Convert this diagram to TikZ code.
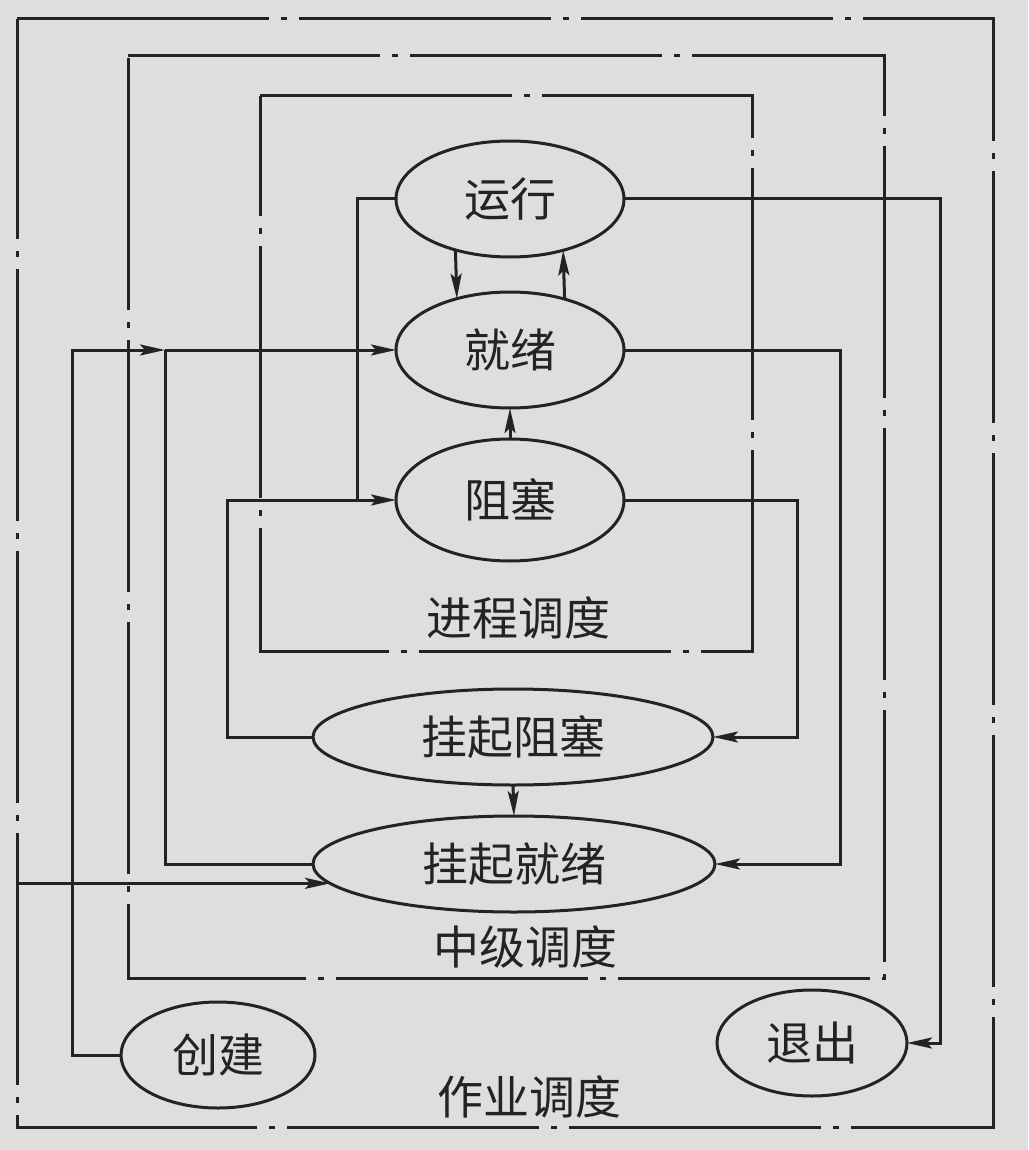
\documentclass[tikz,border=0pt]{standalone}
\usepackage{fontspec}
\newfontfamily\cjk{Noto Sans CJK SC}
\usetikzlibrary{arrows.meta,shapes.geometric,calc}
\definecolor{ink}{RGB}{35,35,35}
\definecolor{paper}{RGB}{222,223,220}
\begin{document}
\begin{tikzpicture}[x=1pt,y=-1pt,
  ln/.style={draw=ink,line width=3pt},
  arr/.style={ln,-{Stealth[length=25pt,width=11pt,inset=5pt]}},
  frame/.style={draw=ink,line width=3pt,dash pattern=on 252pt off 12pt on 6pt off 12pt},
  st/.style={ellipse,draw=ink,line width=3pt,inner sep=0pt,outer sep=0pt,text=ink,
    font=\cjk\fontsize{46pt}{52pt}\selectfont},
  lab/.style={text=ink,inner sep=0pt,font=\cjk\fontsize{46pt}{52pt}\selectfont}]
\useasboundingbox[fill=paper] (0,0) rectangle (1028,1150);

% frames
\draw[frame] (17,19) -- (993,19) -- (993,1127) -- (17,1127) -- cycle;
\draw[frame] (128,56) -- (884,56) -- (884,978) -- (128,978) -- cycle;
\draw[frame] (260,96) -- (752,96) -- (752,651) -- (260,651) -- cycle;

% nodes
\node[st,minimum width=228pt,minimum height=116pt] (yx) at (510,199) {运行};
\node[st,minimum width=228pt,minimum height=116pt] (jx) at (510,350) {就绪};
\node[st,minimum width=228pt,minimum height=122pt] (zs) at (510,500) {阻塞};
\node[st,minimum width=400pt,minimum height=96pt] (gzs) at (513,737) {挂起阻塞};
\node[st,minimum width=402pt,minimum height=96pt] (gjx) at (514,864) {挂起就绪};
\node[st,minimum width=194pt,minimum height=106pt] (cj) at (218,1055) {创建};
\node[st,minimum width=190pt,minimum height=106pt] (tc) at (812,1043) {退出};

\node[lab] (l1) at (518,618) {进程调度};
\node[lab] (l2) at (525,947) {中级调度};
\node[lab] (l3) at (529,1097) {作业调度};

% routing columns
\coordinate (xO) at (17,0);
\coordinate (xG) at (72,0);
\coordinate (xF) at (165,0);
\coordinate (xB) at (227,0);
\coordinate (xA) at (357,0);
\coordinate (xC) at (797,0);
\coordinate (xD) at (840,0);
\coordinate (xE) at (940,0);
\coordinate (j1) at (xF |- jx.west);
\coordinate (j2) at (xA |- zs.west);

% connectors
\draw[arr] (yx.223.4) -- (jx.136.6);
\draw[arr] (jx.43.4) -- (yx.316.6);
\draw[arr] (zs.north) -- (jx.south);
\draw[arr] (gzs.south) -- (gjx.north);

\draw[ln] (yx.west) -| (j2);
\draw[arr] (gzs.west) -| (xB |- zs.west) -- (zs.west);
\draw[arr] (zs.east) -| (xC |- gzs.east) -- (gzs.east);
\draw[arr] (jx.east) -| (xD |- gjx.east) -- (gjx.east);
\draw[arr] (yx.east) -| (xE |- tc.east) -- (tc.east);

\draw[ln] (gjx.west) -| (j1);
\draw[arr] (cj.west) -| (xG |- jx.west) -- (j1);
\draw[arr] (j1) -- (jx.west);
\draw[arr] (xO |- gjx.186) -- (gjx.186);
\end{tikzpicture}
\end{document}
